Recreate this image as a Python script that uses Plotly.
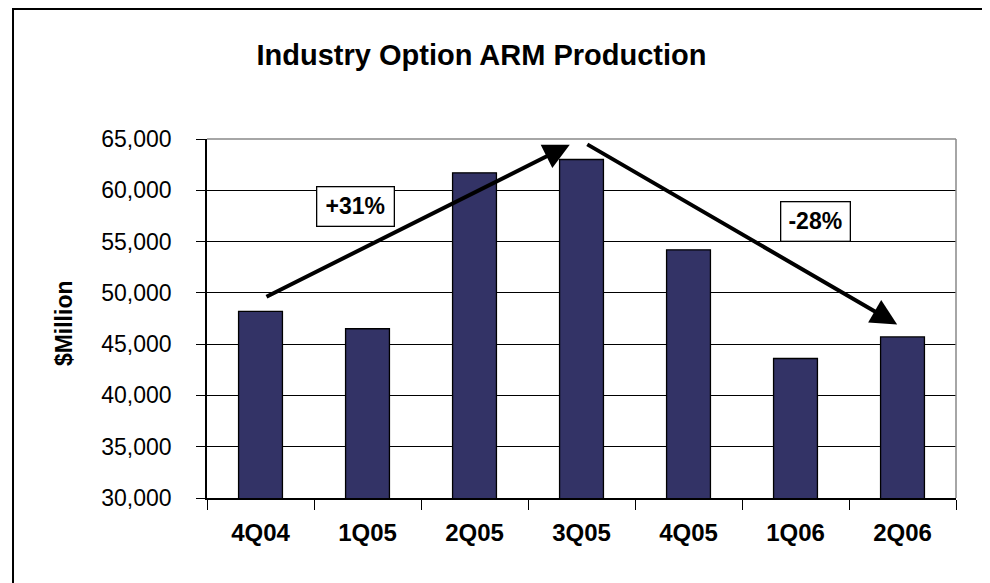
import plotly.graph_objects as go

quarters = ["4Q04", "1Q05", "2Q05", "3Q05", "4Q05", "1Q06", "2Q06"]
production = [48200, 46500, 61700, 63000, 54200, 43600, 45700]
y_ticks = [30000, 35000, 40000, 45000, 50000, 55000, 60000, 65000]
y_tick_text = ["30,000", "35,000", "40,000", "45,000", "50,000", "55,000", "60,000", "65,000"]
change_labels = ["+31%", "-28%"]

FONT = "Liberation Sans, Arial, sans-serif"

fig = go.Figure()
fig.add_trace(go.Bar(
    x=quarters, y=production,
    marker=dict(color="#333366", line=dict(color="black", width=1.3)),
    width=0.41,
))

fig.update_layout(
    width=990, height=583,
    margin=dict(l=199, r=42, t=131, b=93),
    paper_bgcolor="white", plot_bgcolor="white",
    showlegend=False,
    font=dict(family=FONT, color="black"),
    title=dict(text="<b>Industry Option ARM Production</b>", x=473.5 / 990, xanchor="center",
               y=1 - 47 / 583, yanchor="middle", yref="container",
               font=dict(size=29, family=FONT, color="black")),
)

fig.update_yaxes(
    range=[30000, 65000], tickvals=y_ticks, ticktext=y_tick_text,
    showgrid=True, gridcolor="black", gridwidth=1.2,
    showline=True, linecolor="black", linewidth=1.5,
    ticks="outside", ticklen=9, tickcolor="black", tickwidth=1.2,
    tickfont=dict(size=23, family=FONT, color="black"),
    ticklabelstandoff=20, zeroline=False, mirror=False,
)
fig.update_xaxes(
    showgrid=False, showline=True, linecolor="black", linewidth=1.5,
    ticks="outside", ticklen=10, tickcolor="black", tickwidth=1.2,
    tickson="boundaries",
    tickfont=dict(size=24, family=FONT, color="black"),
    tickprefix="<b>", ticksuffix="</b>",
    ticklabelstandoff=12,
)

# grey plot-area border on top and right
fig.add_shape(type="line", xref="paper", yref="paper", x0=0, x1=1, y0=1, y1=1,
              line=dict(color="#888888", width=1.5))
fig.add_shape(type="line", xref="paper", yref="paper", x0=1, x1=1, y0=0, y1=1,
              line=dict(color="#888888", width=1.5))
# outer chart border
fig.add_shape(type="rect", xref="paper", yref="paper", x0=-0.259, x1=1.040, y0=-0.30, y1=1.362,
              line=dict(color="black", width=2), fillcolor="rgba(0,0,0,0)", layer="below")

# trend arrows
fig.add_annotation(x=2.89, y=64436, ax=0.042, ay=49553, xref="x", yref="y", axref="x", ayref="y",
                   text="", showarrow=True, arrowhead=2, arrowsize=1.3, arrowwidth=4, arrowcolor="black")
fig.add_annotation(x=5.95, y=46926, ax=3.04, ay=64562, xref="x", yref="y", axref="x", ayref="y",
                   text="", showarrow=True, arrowhead=2, arrowsize=1.3, arrowwidth=4, arrowcolor="black")

# change labels
fig.add_annotation(x=0.89, y=58453, xref="x", yref="y", text="<b>" + change_labels[0] + "</b>",
                   showarrow=False, font=dict(size=23, family=FONT, color="black"),
                   width=66, height=28,
                   bgcolor="white", bordercolor="black", borderwidth=1.3, borderpad=5)
fig.add_annotation(x=5.19, y=56946, xref="x", yref="y", text="<b>" + change_labels[1] + "</b>",
                   showarrow=False, font=dict(size=23, family=FONT, color="black"),
                   width=58, height=28,
                   bgcolor="white", bordercolor="black", borderwidth=1.3, borderpad=5)

# y-axis title
fig.add_annotation(x=-0.191, y=0.487, xref="paper", yref="paper", text="<b>$Million</b>",
                   xanchor="center", yanchor="middle",
                   textangle=-90, showarrow=False, font=dict(size=23, family=FONT, color="black"))

fig.write_html("out.html")
